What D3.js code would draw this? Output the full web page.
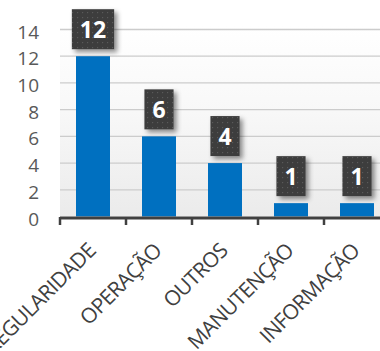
<!DOCTYPE html>
<html>
<head>
<meta charset="utf-8">
<script src="https://cdn.jsdelivr.net/npm/d3@7"></script>
<style>
  html, body { margin: 0; padding: 0; background: #ffffff; }
  svg { display: block; }
</style>
</head>
<body>
<svg id="chart" width="380" height="351"></svg>
<script>
// Complaint counts per category
const categories = ["REGULARIDADE", "OPERAÇÃO", "OUTROS", "MANUTENÇÃO", "INFORMAÇÃO"];
const counts = [12, 6, 4, 1, 1];
const yTicks = [0, 2, 4, 6, 8, 10, 12, 14];

const svg = d3.select("#chart");
const plotLeft = 60, plotRight = 390, plotTop = 29.5, plotBottom = 216.5;

const x = d3.scaleBand().domain(categories).range([plotLeft, plotRight])
  .paddingInner(0.485).paddingOuter(0.2425);
const y = d3.scaleLinear().domain([0, 14]).range([plotBottom, plotTop]);

const defs = svg.append("defs");
const bg = defs.append("linearGradient").attr("id", "plotBg")
  .attr("x1", 0).attr("y1", 0).attr("x2", 0).attr("y2", 1);
bg.append("stop").attr("offset", "0%").attr("stop-color", "#ffffff");
bg.append("stop").attr("offset", "45%").attr("stop-color", "#f8f8f8");
bg.append("stop").attr("offset", "100%").attr("stop-color", "#ebebeb");

const dots = defs.append("pattern").attr("id", "dots")
  .attr("patternUnits", "userSpaceOnUse").attr("width", 5).attr("height", 5);
dots.append("rect").attr("width", 5).attr("height", 5).attr("fill", "#3c3c3c");
dots.append("rect").attr("x", 2).attr("y", 2).attr("width", 1.2).attr("height", 1.2).attr("fill", "#5a5a5a");

const shadow = defs.append("filter").attr("id", "shadow")
  .attr("x", "-30%").attr("y", "-30%").attr("width", "170%").attr("height", "170%");
shadow.append("feDropShadow").attr("dx", 3).attr("dy", 3).attr("stdDeviation", 2.5)
  .attr("flood-color", "#000").attr("flood-opacity", 0.45);

// plot background
svg.append("rect").attr("x", plotLeft).attr("y", plotTop - 4).attr("width", plotRight - plotLeft)
  .attr("height", plotBottom - plotTop + 4).attr("fill", "url(#plotBg)");

// gridlines
svg.append("g").selectAll("line").data(yTicks.filter(d => d > 0)).join("line")
  .attr("x1", plotLeft).attr("x2", plotRight)
  .attr("y1", d => y(d)).attr("y2", d => y(d))
  .attr("stroke", "#cccccc").attr("stroke-width", 1.3);

// y axis labels
const yAxis = d3.axisLeft(y).tickValues(yTicks).tickSize(0).tickPadding(0);
const gy = svg.append("g").attr("transform", "translate(39,0)").call(yAxis);
gy.select(".domain").remove();
gy.selectAll("text").attr("font-family", "Open Sans, sans-serif")
  .attr("font-size", 19).attr("fill", "#595959").attr("dy", "0.45em");

// bars
svg.append("g").selectAll("rect").data(counts).join("rect")
  .attr("x", (d, i) => x(categories[i]))
  .attr("width", x.bandwidth())
  .attr("y", d => y(d))
  .attr("height", d => y(0) - y(d))
  .attr("fill", "#0070c0");

// x axis
const bounds = categories.map(c => x(c) - x.step() * x.paddingInner() / 2);
bounds.push(plotRight);
svg.append("line").attr("x1", plotLeft).attr("x2", plotRight)
  .attr("y1", 218).attr("y2", 218).attr("stroke", "#404040").attr("stroke-width", 3);
svg.append("g").selectAll("line").data(bounds).join("line")
  .attr("x1", d => d).attr("x2", d => d).attr("y1", 217).attr("y2", 225)
  .attr("stroke", "#404040").attr("stroke-width", 2.5);

svg.append("g").selectAll("text").data(categories).join("text")
  .attr("transform", c => `translate(${x(c) + x.bandwidth() / 2 + 4},252) rotate(-45)`)
  .attr("text-anchor", "end")
  .attr("font-family", "Open Sans, sans-serif").attr("font-size", 21)
  .attr("letter-spacing", -0.6)
  .attr("fill", "#404040").text(c => c);

// value labels
const lg = svg.append("g").selectAll("g").data(counts).join("g");
lg.each(function (d, i) {
  const g = d3.select(this);
  const cx = x(categories[i]) + x.bandwidth() / 2;
  const t = g.append("text").attr("x", cx).attr("text-anchor", "middle")
    .attr("font-family", "Open Sans, sans-serif").attr("font-weight", "bold")
    .attr("font-size", 23).attr("fill", "#ffffff").text(d);
  const w = t.node().getBBox().width + 16;
  const h = 40;
  const boxBottom = y(d) - 7;
  g.insert("rect", "text").attr("x", cx - w / 2).attr("y", boxBottom - h)
    .attr("width", w).attr("height", h).attr("fill", "url(#dots)")
    .attr("filter", "url(#shadow)");
  t.attr("y", boxBottom - h / 2 + 8.5);
});
</script>
</body>
</html>
